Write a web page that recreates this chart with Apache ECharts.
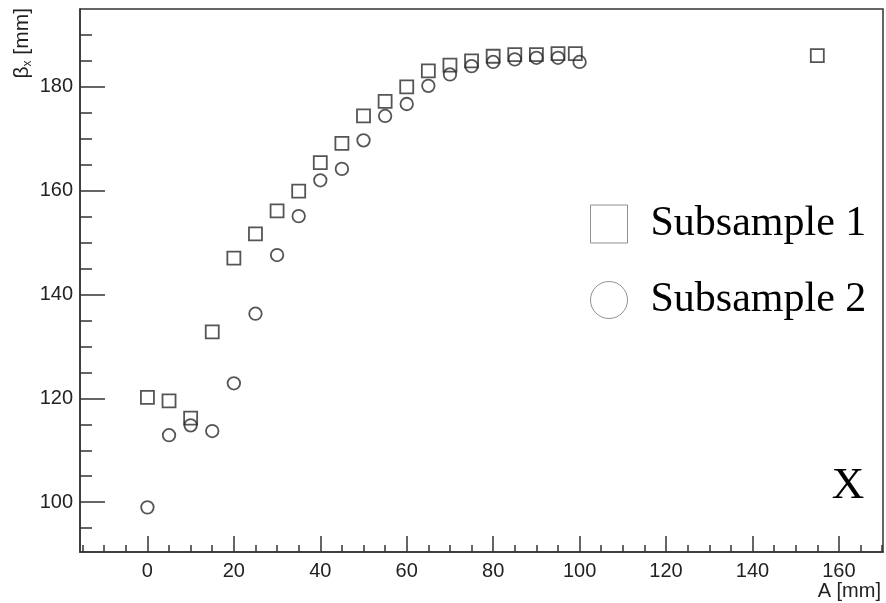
<!DOCTYPE html>
<html>
<head>
<meta charset="utf-8">
<script src="https://cdn.jsdelivr.net/npm/echarts@6/dist/echarts.min.js"></script>
<style>
  html, body { margin: 0; padding: 0; background: #fff; }
  #chart { width: 886px; height: 603px; }
</style>
</head>
<body>
<div id="chart"></div>
<script>
// 数据：子样本1（方块）
const aSub1 = [0, 5, 10, 15, 20, 25, 30, 35, 40, 45, 50, 55, 60, 65, 70, 75, 80, 85, 90, 95, 99, 155];
const betaSub1 = [120.2, 119.5, 116.2, 132.8, 147.0, 151.7, 156.1, 159.9, 165.4, 169.1, 174.4, 177.2, 180.0, 183.1, 184.2, 185.0, 185.9, 186.2, 186.2, 186.4, 186.4, 186.0];

// 数据：子样本2（圆圈）
const aSub2 = [0, 5, 10, 15, 20, 25, 30, 35, 40, 45, 50, 55, 60, 65, 70, 75, 80, 85, 90, 95, 100];
const betaSub2 = [99.0, 112.9, 114.8, 113.7, 122.9, 136.3, 147.6, 155.1, 162.0, 164.2, 169.7, 174.4, 176.7, 180.2, 182.4, 184.0, 184.8, 185.3, 185.6, 185.6, 184.8];

// 刻度
const xMajor = [0, 20, 40, 60, 80, 100, 120, 140, 160];
const xMinor = [-15, -10, -5, 0, 5, 10, 15, 20, 25, 30, 35, 40, 45, 50, 55, 60, 65, 70, 75, 80, 85, 90, 95, 100, 105, 110, 115, 120, 125, 130, 135, 140, 145, 150, 155, 160, 165, 170];
const yMajor = [100, 120, 140, 160, 180];
const yMinor = [95, 100, 105, 110, 115, 120, 125, 130, 135, 140, 145, 150, 155, 160, 165, 170, 175, 180, 185, 190];

const X_MIN = -15.6, X_MAX = 170.2;
const Y_MIN = 90.4, Y_MAX = 195;

const lineColor = "#333";
const sansFont = "Liberation Sans";
const serifFont = "Liberation Serif";

const chart = echarts.init(document.getElementById("chart"));

const markerStyle = {
  color: "rgba(0,0,0,0)",
  borderColor: "#2a2a2a",
  borderWidth: 1.8
};

chart.setOption({
  animation: false,
  backgroundColor: "#fff",
  grid: {
    left: 80, top: 9, right: 3, bottom: 51,
    show: true,
    borderColor: lineColor,
    borderWidth: 1.5,
    backgroundColor: "transparent"
  },
  xAxis: [
    {
      type: "value", min: X_MIN, max: X_MAX, position: "bottom",
      axisLine: { show: true, onZero: false, lineStyle: { color: lineColor, width: 1.5 } },
      axisTick: { show: true, inside: true, length: 16, customValues: xMajor, lineStyle: { color: lineColor, width: 1.5 } },
      axisLabel: { customValues: xMajor, margin: 9, fontSize: 20, fontFamily: sansFont, color: "#222" },
      splitLine: { show: false }
    },
    {
      type: "value", min: X_MIN, max: X_MAX, position: "bottom",
      axisLine: { show: false, onZero: false },
      axisTick: { show: true, inside: true, length: 7, customValues: xMinor, lineStyle: { color: lineColor, width: 1.5 } },
      axisLabel: { show: false },
      splitLine: { show: false }
    }
  ],
  yAxis: [
    {
      type: "value", min: Y_MIN, max: Y_MAX, position: "left",
      axisLine: { show: true, onZero: false, lineStyle: { color: lineColor, width: 1.5 } },
      axisTick: { show: true, inside: true, length: 25, customValues: yMajor, lineStyle: { color: lineColor, width: 1.5 } },
      axisLabel: { customValues: yMajor, margin: 7, fontSize: 20, fontFamily: sansFont, color: "#222" },
      splitLine: { show: false }
    },
    {
      type: "value", min: Y_MIN, max: Y_MAX, position: "left",
      axisLine: { show: false, onZero: false },
      axisTick: { show: true, inside: true, length: 12, customValues: yMinor, lineStyle: { color: lineColor, width: 1.5 } },
      axisLabel: { show: false },
      splitLine: { show: false }
    }
  ],
  legend: {
    orient: "vertical",
    left: 585,
    top: 198,
    itemWidth: 37,
    itemHeight: 38,
    itemGap: 34,
    selectedMode: false,
    data: [
      { name: "Subsample 1", icon: "rect" },
      { name: "Subsample 2", icon: "circle" }
    ],
    itemStyle: { color: "#fff", borderColor: "#777", borderWidth: 1 },
    textStyle: { fontFamily: serifFont, fontSize: 42, color: "#000", padding: [0, 0, 0, 18] }
  },
  series: [
    {
      name: "Subsample 1",
      type: "scatter",
      xAxisIndex: 0, yAxisIndex: 0,
      symbol: "rect",
      symbolSize: 13,
      itemStyle: markerStyle,
      data: aSub1.map((a, i) => [a, betaSub1[i]])
    },
    {
      name: "Subsample 2",
      type: "scatter",
      xAxisIndex: 0, yAxisIndex: 0,
      symbol: "circle",
      symbolSize: 12.5,
      itemStyle: markerStyle,
      data: aSub2.map((a, i) => [a, betaSub2[i]])
    }
  ],
  graphic: [
    // y 轴标题（竖排）
    {
      type: "text", x: 22, y: 8, rotation: Math.PI / 2,
      style: {
        text: "{b|β}{s|x}{b| [mm]}",
        align: "right", verticalAlign: "middle",
        rich: {
          b: { fontSize: 21, fontFamily: sansFont, fill: "#222", lineHeight: 24 },
          s: { fontSize: 12, fontFamily: sansFont, fill: "#222", lineHeight: 14, verticalAlign: "bottom", padding: [8, 0, 0, 0] }
        }
      }
    },
    // x 轴标题
    {
      type: "text", x: 881, y: 591,
      style: { text: "A [mm]", align: "right", verticalAlign: "middle", font: '20px "Liberation Sans"', fill: "#222" }
    },
    // 右下角标记
    {
      type: "text", x: 848, y: 486,
      style: { text: "X", align: "center", verticalAlign: "middle", font: '45px "Liberation Serif"', fill: "#000" }
    }
  ]
});
</script>
</body>
</html>
